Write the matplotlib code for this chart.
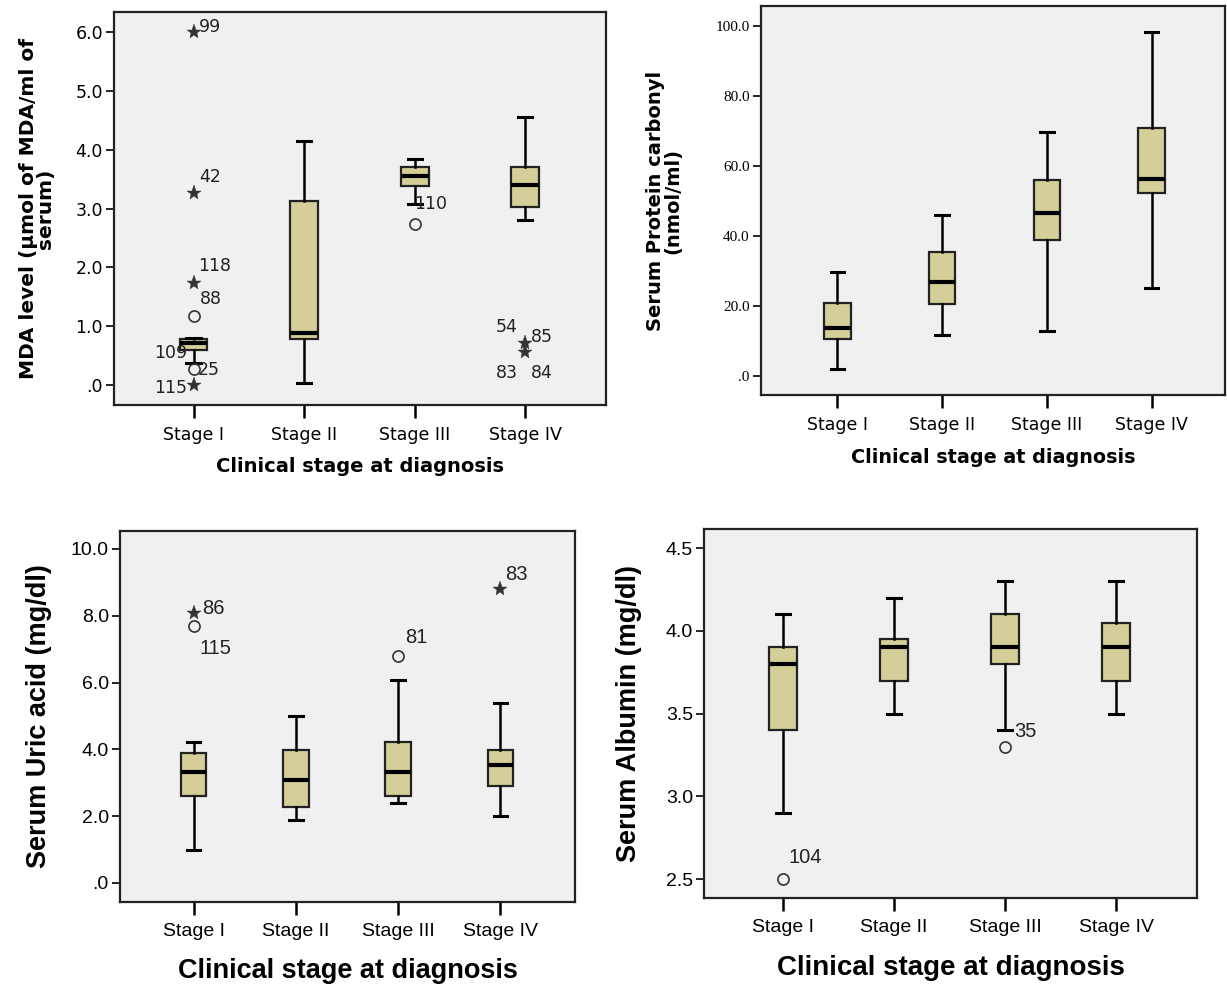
import matplotlib
matplotlib.use("Agg")
import matplotlib.pyplot as plt

stages = ["Stage I", "Stage II", "Stage III", "Stage IV"]
xlabel = "Clinical stage at diagnosis"

# MDA level
mda_lo = [0.37, 0.03, 3.07, 2.80]
mda_q1 = [0.60, 0.79, 3.39, 3.02]
mda_med = [0.71, 0.89, 3.55, 3.40]
mda_q3 = [0.79, 3.13, 3.70, 3.70]
mda_hi = [0.80, 4.15, 3.84, 4.56]
mda_out_stage = [1, 1, 1, 1, 1, 1, 3, 4, 4]
mda_out_val = [6.0, 3.27, 1.73, 1.17, 0.28, 0.0, 2.74, 0.71, 0.57]
mda_out_mark = ["*", "*", "*", "o", "o", "*", "o", "*", "*"]

# Protein carbonyl
pc_lo = [1.8, 11.6, 12.8, 25.0]
pc_q1 = [10.4, 20.5, 38.8, 52.1]
pc_med = [13.5, 26.9, 46.4, 56.2]
pc_q3 = [20.9, 35.2, 55.9, 70.9]
pc_hi = [29.5, 45.9, 69.5, 98.1]

# Uric acid
ua_lo = [1.0, 1.9, 2.4, 2.0]
ua_q1 = [2.6, 2.27, 2.6, 2.89]
ua_med = [3.31, 3.09, 3.31, 3.54]
ua_q3 = [3.9, 3.99, 4.21, 3.99]
ua_hi = [4.21, 5.0, 6.09, 5.4]
ua_out_stage = [1, 1, 3, 4]
ua_out_val = [8.08, 7.70, 6.79, 8.80]
ua_out_mark = ["*", "o", "o", "*"]

# Albumin
alb_lo = [2.9, 3.5, 3.4, 3.5]
alb_q1 = [3.4, 3.7, 3.8, 3.7]
alb_med = [3.8, 3.9, 3.9, 3.9]
alb_q3 = [3.9, 3.95, 4.1, 4.05]
alb_hi = [4.1, 4.2, 4.3, 4.3]
alb_out_stage = [1, 3]
alb_out_val = [2.5, 3.3]
alb_out_mark = ["o", "o"]

BG = "#f0f0f0"
BOX = "#d4cf98"


def draw(ax, lo, q1, med, q3, hi, tickfont, tsize):
    stats = []
    for i in range(4):
        stats.append(dict(whislo=lo[i], q1=q1[i], med=med[i], q3=q3[i], whishi=hi[i], fliers=[]))
    ax.bxp(stats, positions=[1, 2, 3, 4], widths=0.25, capwidths=0.13, showfliers=False,
           patch_artist=True,
           boxprops=dict(facecolor=BOX, edgecolor="#222222", linewidth=1.6),
           medianprops=dict(color="black", linewidth=3.0),
           whiskerprops=dict(color="black", linewidth=1.8),
           capprops=dict(color="black", linewidth=2.2))
    ax.set_facecolor(BG)
    ax.set_xlim(0.28, 4.73)
    ax.set_xticks([1, 2, 3, 4])
    ax.set_xticklabels(stages, fontfamily=tickfont, fontsize=tsize)
    for s in ["left", "right", "top", "bottom"]:
        ax.spines[s].set_linewidth(1.6)
        ax.spines[s].set_color("#222222")
    ax.tick_params(axis="x", length=9, width=1.8, direction="out", pad=6)
    ax.tick_params(axis="y", length=6, width=1.2, direction="out", pad=2)


def outliers(ax, st, vals, marks):
    for s, v, m in zip(st, vals, marks):
        if m == "o":
            ax.plot(s, v, "o", mfc="none", mec="#333333", ms=8, mew=1.2)
        else:
            ax.plot(s, v, "*", color="#333333", ms=11, mew=0.3)


fig = plt.figure(figsize=(12.27, 9.86), dpi=100)

# panel 1
ax1 = fig.add_axes([0.0929, 0.5892, 0.4010, 0.3986])
draw(ax1, mda_lo, mda_q1, mda_med, mda_q3, mda_hi, "DejaVu Sans", 12.5)
outliers(ax1, mda_out_stage, mda_out_val, mda_out_mark)
ax1.set_ylim(-0.34, 6.34)
ax1.set_yticks([0, 1, 2, 3, 4, 5, 6])
ax1.set_yticklabels([".0", "1.0", "2.0", "3.0", "4.0", "5.0", "6.0"], fontfamily="DejaVu Sans", fontsize=12.5)
lab = dict(fontsize=12.5, fontfamily="DejaVu Sans", color="#222222")
ax1.text(1.05, 6.0, "99", **lab)
ax1.text(1.05, 3.45, "42", **lab)
ax1.text(1.04, 1.94, "118", **lab)
ax1.text(1.06, 1.38, "88", **lab)
ax1.text(0.64, 0.46, "109", **lab)
ax1.text(1.04, 0.17, "25", **lab)
ax1.text(0.64, -0.14, "115", **lab)
ax1.text(2.99, 3.0, "110", **lab)
ax1.text(3.73, 0.9, "54", **lab)
ax1.text(4.05, 0.73, "85", **lab)
ax1.text(3.73, 0.12, "83", **lab)
ax1.text(4.05, 0.12, "84", **lab)
ax1.set_xlabel(xlabel, fontsize=14, fontweight="bold", fontfamily="DejaVu Sans")
ax1.xaxis.set_label_coords(0.5, -0.133)
ax1.set_ylabel("MDA level (\u00b5mol of MDA/ml of\nserum)", fontsize=14.5, fontweight="bold",
               fontfamily="DejaVu Sans", linespacing=0.85)
ax1.yaxis.set_label_coords(-0.12, 0.5)

# panel 2
ax2 = fig.add_axes([0.6202, 0.5994, 0.3780, 0.3945])
draw(ax2, pc_lo, pc_q1, pc_med, pc_q3, pc_hi, "DejaVu Sans", 12.5)
ax2.set_xlim(0.27, 4.7)
ax2.set_ylim(-5.5, 105.6)
ax2.set_yticks([0, 20, 40, 60, 80, 100])
ax2.set_yticklabels([".0", "20.0", "40.0", "60.0", "80.0", "100.0"], fontfamily="Liberation Serif", fontsize=11)
ax2.set_xlabel(xlabel, fontsize=13.8, fontweight="bold", fontfamily="DejaVu Sans")
ax2.xaxis.set_label_coords(0.5, -0.136)
ax2.set_ylabel("Serum Protein carbonyl\n(nmol/ml)", fontsize=14, fontweight="bold",
               fontfamily="DejaVu Sans", linespacing=0.85)
ax2.yaxis.set_label_coords(-0.17, 0.5)

# panel 3
ax3 = fig.add_axes([0.0978, 0.0852, 0.3708, 0.3763])
draw(ax3, ua_lo, ua_q1, ua_med, ua_q3, ua_hi, "Liberation Sans", 14)
outliers(ax3, ua_out_stage, ua_out_val, ua_out_mark)
ax3.set_ylim(-0.57, 10.54)
ax3.set_yticks([0, 2, 4, 6, 8, 10])
ax3.set_yticklabels([".0", "2.0", "4.0", "6.0", "8.0", "10.0"], fontfamily="Liberation Sans", fontsize=14)
lab3 = dict(fontsize=14.5, fontfamily="Liberation Sans", color="#222222")
ax3.text(1.08, 8.05, "86", **lab3)
ax3.text(1.06, 6.85, "115", **lab3)
ax3.text(3.07, 7.2, "81", **lab3)
ax3.text(4.05, 9.07, "83", **lab3)
ax3.set_xlabel(xlabel, fontsize=19.5, fontweight="bold", fontfamily="Liberation Sans")
ax3.xaxis.set_label_coords(0.5, -0.151)
ax3.set_ylabel("Serum Uric acid (mg/dl)", fontsize=19.5, fontweight="bold", fontfamily="Liberation Sans")
ax3.yaxis.set_label_coords(-0.149, 0.5)

# panel 4
ax4 = fig.add_axes([0.5738, 0.0893, 0.4018, 0.3742])
draw(ax4, alb_lo, alb_q1, alb_med, alb_q3, alb_hi, "Liberation Sans", 14)
outliers(ax4, alb_out_stage, alb_out_val, alb_out_mark)
ax4.set_xlim(0.29, 4.73)
ax4.set_ylim(2.387, 4.615)
ax4.set_yticks([2.5, 3.0, 3.5, 4.0, 4.5])
ax4.set_yticklabels(["2.5", "3.0", "3.5", "4.0", "4.5"], fontfamily="Liberation Sans", fontsize=14)
ax4.text(1.05, 2.6, "104", **lab3)
ax4.text(3.08, 3.36, "35", **lab3)
ax4.set_xlabel(xlabel, fontsize=20, fontweight="bold", fontfamily="Liberation Sans")
ax4.xaxis.set_label_coords(0.5, -0.154)
ax4.set_ylabel("Serum Albumin (mg/dl)", fontsize=19.5, fontweight="bold", fontfamily="Liberation Sans")
ax4.yaxis.set_label_coords(-0.126, 0.5)

fig.savefig("out.png", dpi=100)
